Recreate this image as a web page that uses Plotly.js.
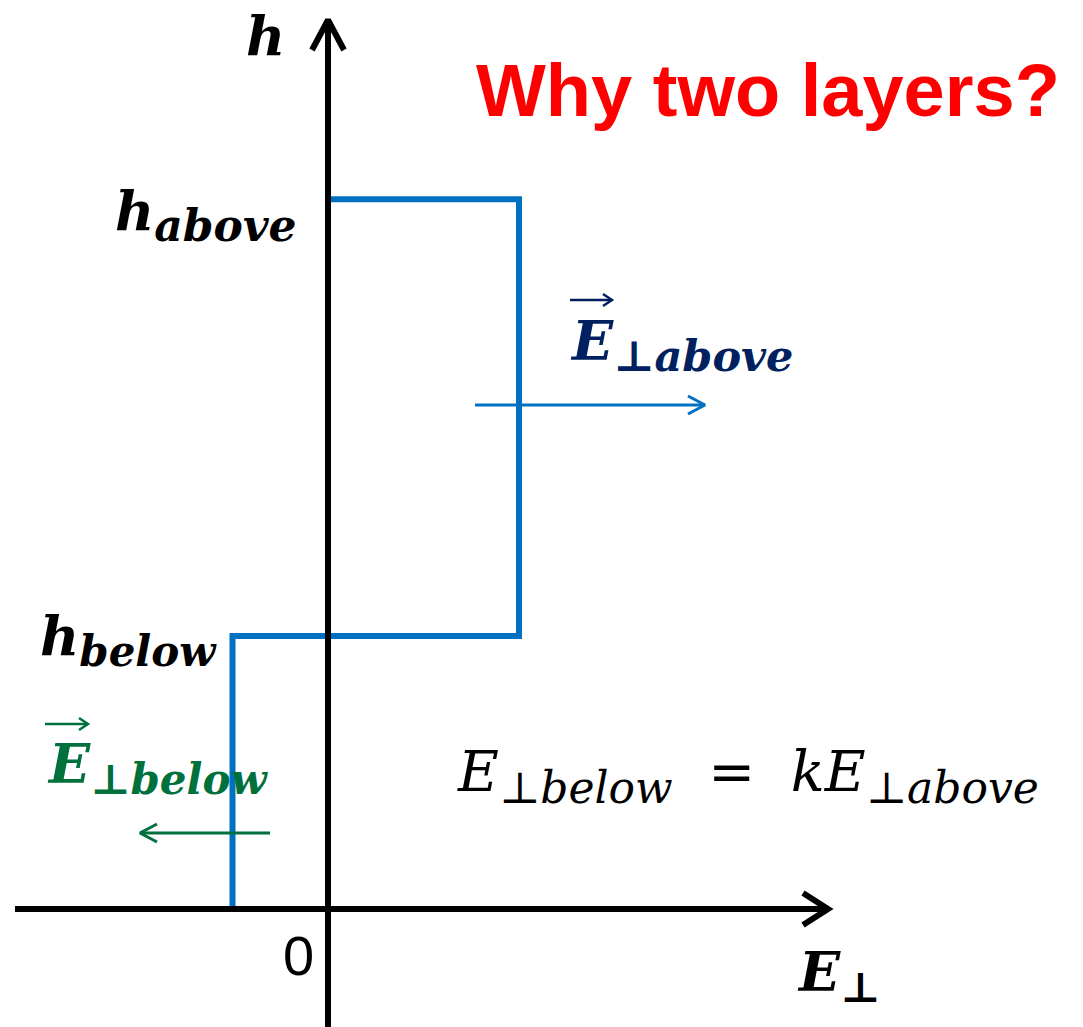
<!DOCTYPE html>
<html>
<head>
<meta charset="utf-8">
<script src="https://cdn.plot.ly/plotly-3.0.1.min.js"></script>
<style>html,body{margin:0;padding:0;background:#fff;}#chart{width:1083px;height:1027px;}</style>
</head>
<body>
<div id="chart"></div>
<script>
// ---- data (physical units) ----
const fieldNames = ["E_below", "E_above"];
const fieldValues = [-0.5, 1.0];          // E_perp below / above
const heightNames = ["h_below", "h_above"];
const heightValues = [1.0, 2.6];          // interface heights
const tickLabels = ["0"];

const Eb = fieldValues[0], Ea = fieldValues[1];
const hb = heightValues[0], ha = heightValues[1];
const stepE = [Eb, Eb, Ea, Ea, 0];
const stepH = [0, hb, hb, ha, ha];

// ---- layout mapping helpers (pixel -> data, for decorations only) ----
const W = 1083, H = 1027;
const ox = 328, ux = 191, oy = 909, uy = 273;
const X = p => (p - ox) / ux;
const Y = p => (oy - p) / uy;
const PX = p => p / W;
const PY = p => 1 - p / H;

const serif = "DejaVu Serif";
const blue = "#0070C0", navy = "#002060", green = "#00703C";

const traces = [
  {x: stepE, y: stepH, mode: "lines", line: {color: blue, width: 6}, hoverinfo: "skip"},
  // vertical axis + chevron
  {x: [X(ox), X(ox), null, X(312), X(ox), X(344)],
   y: [Y(1027), Y(21), null, Y(50), Y(20), Y(50)],
   mode: "lines", line: {color: "#000", width: 6}, hoverinfo: "skip"},
  // horizontal axis + chevron
  {x: [X(15), X(828), null, X(803), X(828), X(803)],
   y: [0, 0, null, Y(893), Y(oy), Y(925)],
   mode: "lines", line: {color: "#000", width: 6}, hoverinfo: "skip"},
  // E above arrow
  {x: [X(475), X(705), null, X(688), X(705), X(688)],
   y: [Y(405), Y(405), null, Y(396), Y(405), Y(414)],
   mode: "lines", line: {color: blue, width: 3}, hoverinfo: "skip"},
  // E below arrow
  {x: [X(270), X(140), null, X(157), X(140), X(157)],
   y: [Y(833), Y(833), null, Y(824), Y(833), Y(842)],
   mode: "lines", line: {color: green, width: 3}, hoverinfo: "skip"},
  // vector arrows over E
  {x: [X(570), X(612), null, X(603), X(612), X(603)],
   y: [Y(300), Y(300), null, Y(294), Y(300), Y(306)],
   mode: "lines", line: {color: navy, width: 2.5}, hoverinfo: "skip"},
  {x: [X(45), X(88), null, X(79), X(88), X(79)],
   y: [Y(724), Y(724), null, Y(718), Y(724), Y(730)],
   mode: "lines", line: {color: green, width: 2.5}, hoverinfo: "skip"}
];

function sub(t, s) { return "<sub><span style=\"font-size:" + s + "px\">" + t + "</span></sub>"; }

function ann(text, x, y, xa, size, color, family, weight, style) {
  return {text: text, xref: "paper", yref: "paper", x: PX(x), y: PY(y),
    xanchor: xa, yanchor: "middle", showarrow: false,
    font: {size: size, color: color, family: family, weight: weight, style: style}};
}

const annotations = [
  ann("h", 265, 36, "center", 54, "#000", serif, 700, "italic"),
  ann("h" + sub("above", 44), 113, 215, "left", 54, "#000", serif, 700, "italic"),
  ann("h" + sub("below", 42), 38, 640, "left", 54, "#000", serif, 700, "italic"),
  ann("E" + sub("⊥above", 43), 568, 345, "left", 54, navy, serif, 700, "italic"),
  ann("E" + sub("⊥below", 42), 45, 768, "left", 54, green, serif, 700, "italic"),
  ann("E" + sub("⊥below", 44) + "  =  kE" + sub("⊥above", 44), 455, 776, "left", 56, "#000", serif, 400, "italic"),
  ann(tickLabels[0], 298, 955, "center", 56, "#000", "Liberation Sans", 400, "normal"),
  ann("E" + sub("⊥", 42), 795, 976, "left", 54, "#000", serif, 700, "italic"),
  ann("Why two layers?", 1062, 90, "right", 74, "#FF0000", "Liberation Sans", 700, "normal")
];

const layout = {
  width: W, height: H,
  margin: {l: 0, r: 0, t: 0, b: 0},
  paper_bgcolor: "#fff", plot_bgcolor: "#fff",
  showlegend: false,
  xaxis: {range: [X(0), X(W)], visible: false, fixedrange: true},
  yaxis: {range: [Y(H), Y(0)], visible: false, fixedrange: true},
  annotations: annotations
};

Plotly.newPlot("chart", traces, layout, {displayModeBar: false, staticPlot: true});
</script>
</body>
</html>
